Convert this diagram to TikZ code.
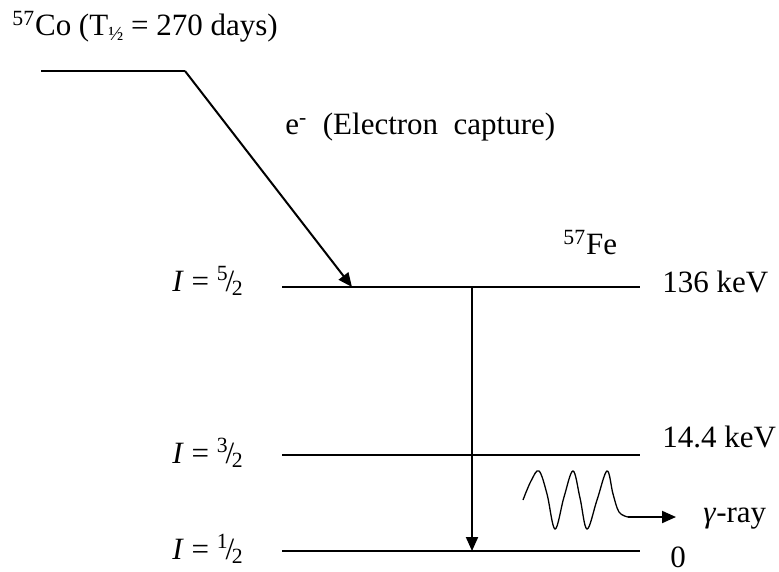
\documentclass[tikz,border=0pt]{standalone}
\usepackage{fontspec}
\setmainfont{Liberation Serif}
\usetikzlibrary{arrows.meta,positioning}
\tikzset{
  lvl/.style  = {line width=1pt},
  lbl/.style  = {anchor=base west, inner sep=0pt,
                 font=\fontsize{15.5}{18}\selectfont},
  spin/.style = {lbl, anchor=base east},
  e/.style    = {-{Triangle[length=7pt,width=6pt]}, line width=1pt},
  wave/.style = {line width=0.65pt}
}
\newcommand{\spinval}[1]{\textit{I}~=~\textsuperscript{#1}\kern-.1em/\kern-.08em\textsubscript{2}}

\begin{document}
\begin{tikzpicture}[x=0.5pt, y=-0.5pt]
  \useasboundingbox (0,0) rectangle (779,571);
  % levels
  \coordinate (co0) at (41,71);   \coordinate (co1) at (185,71);
  \coordinate (l5a) at (282,287); \coordinate (l5b) at (640,287);
  \coordinate (l3a) at (282,455); \coordinate (l3b) at (640,455);
  \coordinate (l1a) at (282,551); \coordinate (l1b) at (640,551);
  \coordinate (ecap) at (352,287);
  \coordinate (gtop) at (472,287); \coordinate (gbot) at (472,551);
  \draw[lvl] (co0) -- (co1);
  \draw[lvl] (l5a) -- (l5b);
  \draw[lvl] (l3a) -- (l3b);
  \draw[lvl] (l1a) -- (l1b);
  % transitions
  \draw[e] (co1) -- (ecap);
  \draw[e] (gtop) -- (gbot);
  % labels
  \node[lbl] (co)   at (12,36)   {\textsuperscript{57}Co (T\raisebox{-.3ex}{\fontsize{10}{10}\selectfont ½} = 270 days)};
  \node[lbl] (ecl)  at (285,135) {e\textsuperscript{-}\ \ (Electron\ \ capture)};
  \node[lbl] (fe)   at (563,255) {\textsuperscript{57}Fe};
  \node[lbl] (e136) at (662,292) {136 keV};
  \node[lbl] (e14)  at (662,447) {14.4 keV};
  \node[lbl] (e0)   at (670,567) {0};
  \node[spin] (s5)  at (244,291) {\spinval{5}};
  \node[spin] (s3)  at (244,463) {\spinval{3}};
  \node[spin] (s1)  at (244,559) {\spinval{1}};
  \node[lbl] (gam)  at (703,522) {\textit{γ}-ray};
  % photon
  \coordinate (w1) at (628,517); \coordinate (w2) at (676,517);
  \draw[wave] plot[smooth, tension=0.6] coordinates {(523,500) (531,481) (539,471)
    (547,494) (555,529) (564,497) (573,471) (580,498) (587,529) (597,500)
    (607,471) (613,494) (619,512) (628,517)};
  \draw[e] (w1) -- (w2);
\end{tikzpicture}
\end{document}
